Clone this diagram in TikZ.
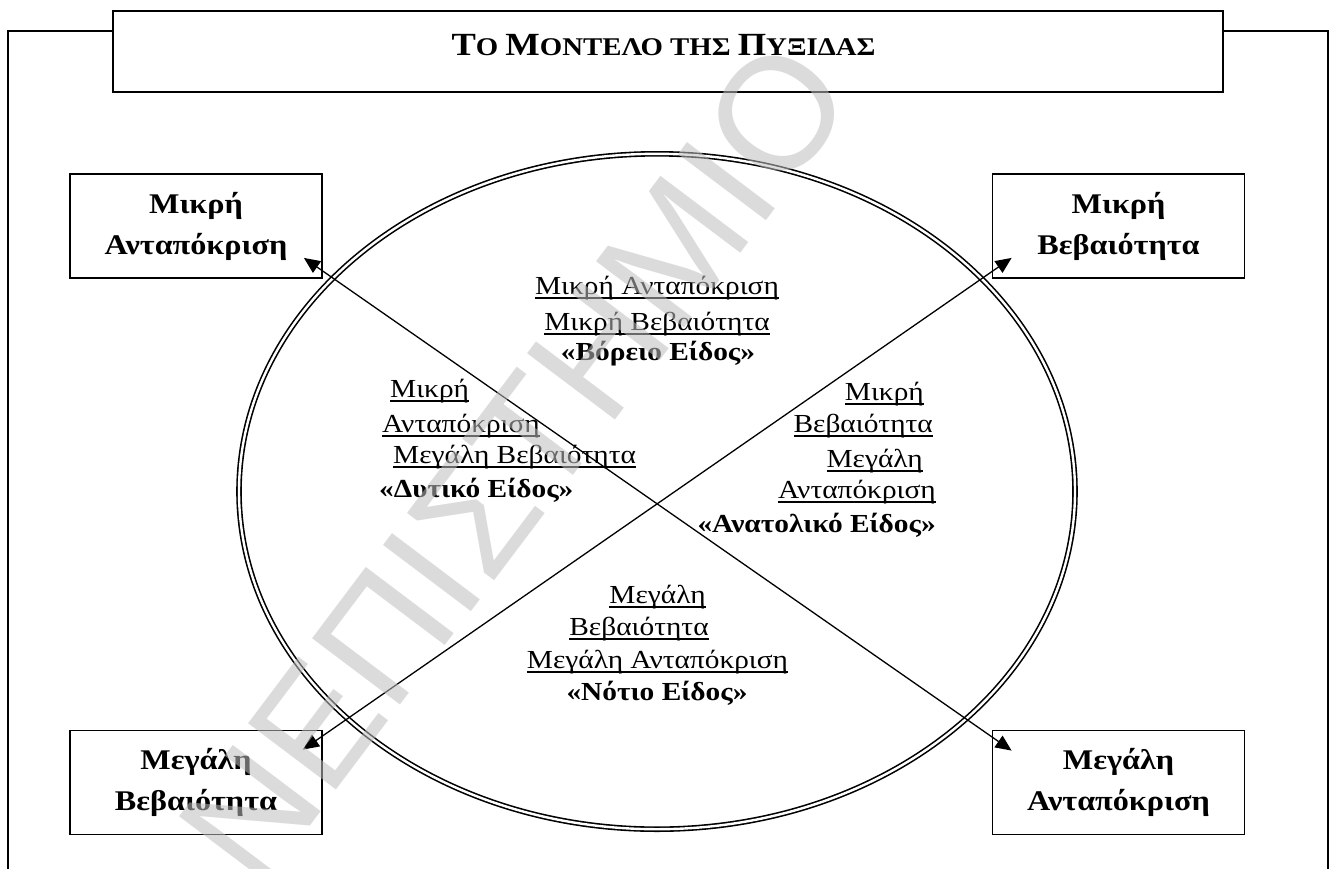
\documentclass[tikz,border=0pt]{standalone}
\usepackage{fontspec}
\setmainfont{Liberation Serif}[FakeStretch=1.13]
\newfontfamily\wmfont{Liberation Sans}
\usetikzlibrary{arrows.meta,calc}

% underline drawn through the descenders, as a word processor does
\newlength\ulwd
\newcommand\ulword[1]{\settowidth\ulwd{#1}\makebox[0pt][l]{\rule[-4.5pt]{\ulwd}{1.3pt}}#1}
% small-caps style title letters
\newcommand\tcapbig[1]{{\fontsize{32.3}{33}\selectfont #1}}
\newcommand\tcapsmall[1]{{\fontsize{25.5}{26}\selectfont #1}}

\begin{document}
\begin{tikzpicture}[x=1pt,y=-1pt,
  frame/.style={draw,line width=1.8pt},
  corner/.style={draw,line width=1.8pt,minimum width=252pt,minimum height=104pt,
    inner sep=0pt,align=center,font=\fontsize{28.5}{41}\selectfont\bfseries},
  lbl/.style={inner sep=0pt,font=\fontsize{26}{30}\selectfont},
  blbl/.style={inner sep=0pt,font=\fontsize{26}{30}\selectfont\bfseries},
  link/.style={line width=1.3pt,
    {Triangle[length=16pt,width=14pt]}-{Triangle[length=16pt,width=14pt]}},
]
\useasboundingbox (0,0) rectangle (1330,868);
\fill[white] (0,0) rectangle (1330,868);

% outer frame, open at the bottom
\draw[frame] (8,880) -- (8,31) -- (1328,31) -- (1328,880);

% title
\node[frame,fill=white,minimum width=1110pt,minimum height=81pt,inner sep=0pt]
  (titlebox) at (668,51.5) {};
\node[anchor=base,inner sep=0pt,font=\bfseries] (title) at (663.5,55)
  {\tcapbig{Τ}\tcapsmall{Ο }\tcapbig{Μ}\tcapsmall{ΟΝΤΕΛΟ ΤΗΣ }\tcapbig{Π}\tcapsmall{ΥΞΙΔΑΣ}};

% compass ellipse
\draw[double,line width=1.6pt,double distance=2.4pt]
  (657,491.5) ellipse [x radius=418, y radius=337.7];

% corner boxes
\node[corner] (ma) at (196,226) {Μικρή\\Ανταπόκριση};
\node[corner] (mb) at (1118.5,226) {Μικρή\\Βεβαιότητα};
\node[corner] (mv) at (196,782.5) {Μεγάλη\\Βεβαιότητα};
\node[corner] (man) at (1118.5,782.5) {Μεγάλη\\Ανταπόκριση};

% diagonals
\draw[link] ($(man.north west)+(20,21)$) -- ($(ma.south east)+(-19,-21)$);
\draw[link] ($(mv.north east)+(-20,20)$) -- ($(mb.south west)+(20,-21)$);

% north
\node[lbl,anchor=base] (n1) at (657,294) {\ulword{Μικρή Ανταπόκριση}};
\node[lbl,anchor=base] (n2) at (657,330) {\ulword{Μικρή Βεβαιότητα}};
\node[blbl,anchor=base] (n3) at (658,360) {«Βόρειο Είδος»};

% west
\node[lbl,anchor=base west] (w1) at (390,397) {\ulword{Μικρή}};
\node[lbl,anchor=base west] (w2) at (382,432) {\ulword{Ανταπόκριση}};
\node[lbl,anchor=base west] (w3) at (393,463) {\ulword{Μεγάλη Βεβαιότητα}};
\node[blbl,anchor=base west] (w4) at (379,497) {«Δυτικό Είδος»};

% east
\node[lbl,anchor=base east] (e1) at (924,400) {\ulword{Μικρή}};
\node[lbl,anchor=base east] (e2) at (933,432) {\ulword{Βεβαιότητα}};
\node[lbl,anchor=base east] (e3) at (923,467) {\ulword{Μεγάλη}};
\node[lbl,anchor=base east] (e4) at (936,498) {\ulword{Ανταπόκριση}};
\node[blbl,anchor=base east] (e5) at (936,532) {«Ανατολικό Είδος»};

% south
\node[lbl,anchor=base] (s1) at (657.5,603) {\ulword{Μεγάλη}};
\node[lbl,anchor=base] (s2) at (639,635) {\ulword{Βεβαιότητα}};
\node[lbl,anchor=base] (s3) at (657.5,668) {\ulword{Μεγάλη Ανταπόκριση}};
\node[blbl,anchor=base] (s4) at (657,700) {«Νότιο Είδος»};

% watermark
\begin{scope}
  \clip (0,0) rectangle (1330,868);
  \node[inner sep=0pt,rotate=53,text=black!25,text opacity=0.55,
    font=\wmfont\fontsize{160}{160}\selectfont] (wm) at (515,462) {ΝΕΠΙΣΤΗΜΙΟ};
\end{scope}
\end{tikzpicture}
\end{document}
